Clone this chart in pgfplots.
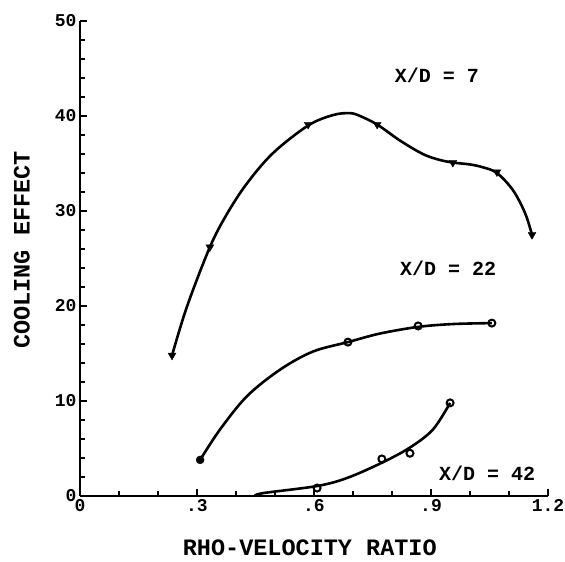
\documentclass[border=0pt]{standalone}
\usepackage{fontspec}
\setmainfont{Liberation Mono}
\usepackage{pgfplots}
\pgfplotsset{compat=1.18}
\begin{document}
\begin{tikzpicture}
\useasboundingbox (-80pt,-66pt) rectangle (485pt,496pt);
\begin{axis}[
 at={(0pt,0pt)}, anchor=south west,
 scale only axis, width=468pt, height=475pt,
 xmin=0, xmax=1.2, ymin=0, ymax=50,
 axis lines*=left,
 axis line style={line width=2.4pt},
 xtick={0,0.3,0.6,0.9,1.2}, xticklabels={0,.3,.6,.9,1.2},
 ytick={0,10,20,30,40,50},
 minor x tick num=2, minor y tick num=4,
 major tick length=7pt, minor tick length=5pt,
 tick style={line width=1.8pt, black},
 tick align=inside,
 /pgf/number format/assume math mode=true,
 ticklabel style={font=\fontsize{18}{20}\selectfont\bfseries},
 xlabel={RHO-VELOCITY RATIO}, ylabel={COOLING EFFECT},
 label style={font=\fontsize{23.5}{26}\selectfont\bfseries},
 xlabel style={at={(axis description cs:0.491,-0.11)}, anchor=center},
 ylabel style={at={(axis description cs:-0.124,0.518)}, anchor=center},
 clip=false,
]
% X/D = 7 : curve as drawn, and the measured points
\addplot[line width=2.6pt, smooth, tension=0.55] coordinates {
 (0.236,14.8)(0.274,19.9)(0.333,26.2)(0.377,29.7)(0.428,32.9)(0.495,36.1)
 (0.585,39.0)(0.649,40.1)(0.692,40.3)(0.718,40.0)(0.762,39.1)(0.821,37.4)
 (0.879,36.0)(0.920,35.4)(0.956,35.1)(1.000,34.9)(1.033,34.6)(1.069,34.0)
 (1.110,32.2)(1.141,29.8)(1.159,27.5)};
\addplot[only marks, mark=triangle*, mark size=4.5pt, mark options={fill=black, rotate=180}]
 coordinates {(0.236,14.8)(0.333,26.2)(0.585,39.1)(0.762,39.1)(0.956,35.1)(1.069,34.1)(1.159,27.5)};
% X/D = 22
\addplot[line width=2.6pt, smooth, tension=0.55] coordinates {
 (0.308,3.8)(0.359,7.0)(0.428,10.5)(0.513,13.3)(0.597,15.2)(0.687,16.2)
 (0.769,17.1)(0.867,17.8)(0.956,18.1)(1.056,18.2)};
\addplot[only marks, mark=*, mark size=4pt, mark options={fill=black}]
 coordinates {(0.308,3.8)};
\addplot[only marks, mark=o, mark size=3.5pt, mark options={fill=white, line width=2pt}]
 coordinates {(0.687,16.2)(0.867,17.9)(1.056,18.2)};
% X/D = 42
\addplot[line width=2.6pt, smooth, tension=0.55] coordinates {
 (0.449,0)(0.469,0.3)(0.608,1.05)(0.685,1.9)(0.774,3.5)(0.846,5.1)(0.905,7.0)(0.949,9.8)};
\addplot[only marks, mark=o, mark size=3.5pt, mark options={fill=white, line width=2pt}]
 coordinates {(0.608,0.84)(0.774,3.9)(0.846,4.5)(0.949,9.8)};
\node[font=\fontsize{20}{24}\selectfont\bfseries] at (axis cs:0.915,44.3) {X/D = 7};
\node[font=\fontsize{20}{24}\selectfont\bfseries] at (axis cs:0.944,24) {X/D = 22};
\node[font=\fontsize{20}{24}\selectfont\bfseries] at (axis cs:1.044,2.4) {X/D = 42};
\end{axis}
\end{tikzpicture}
\end{document}
